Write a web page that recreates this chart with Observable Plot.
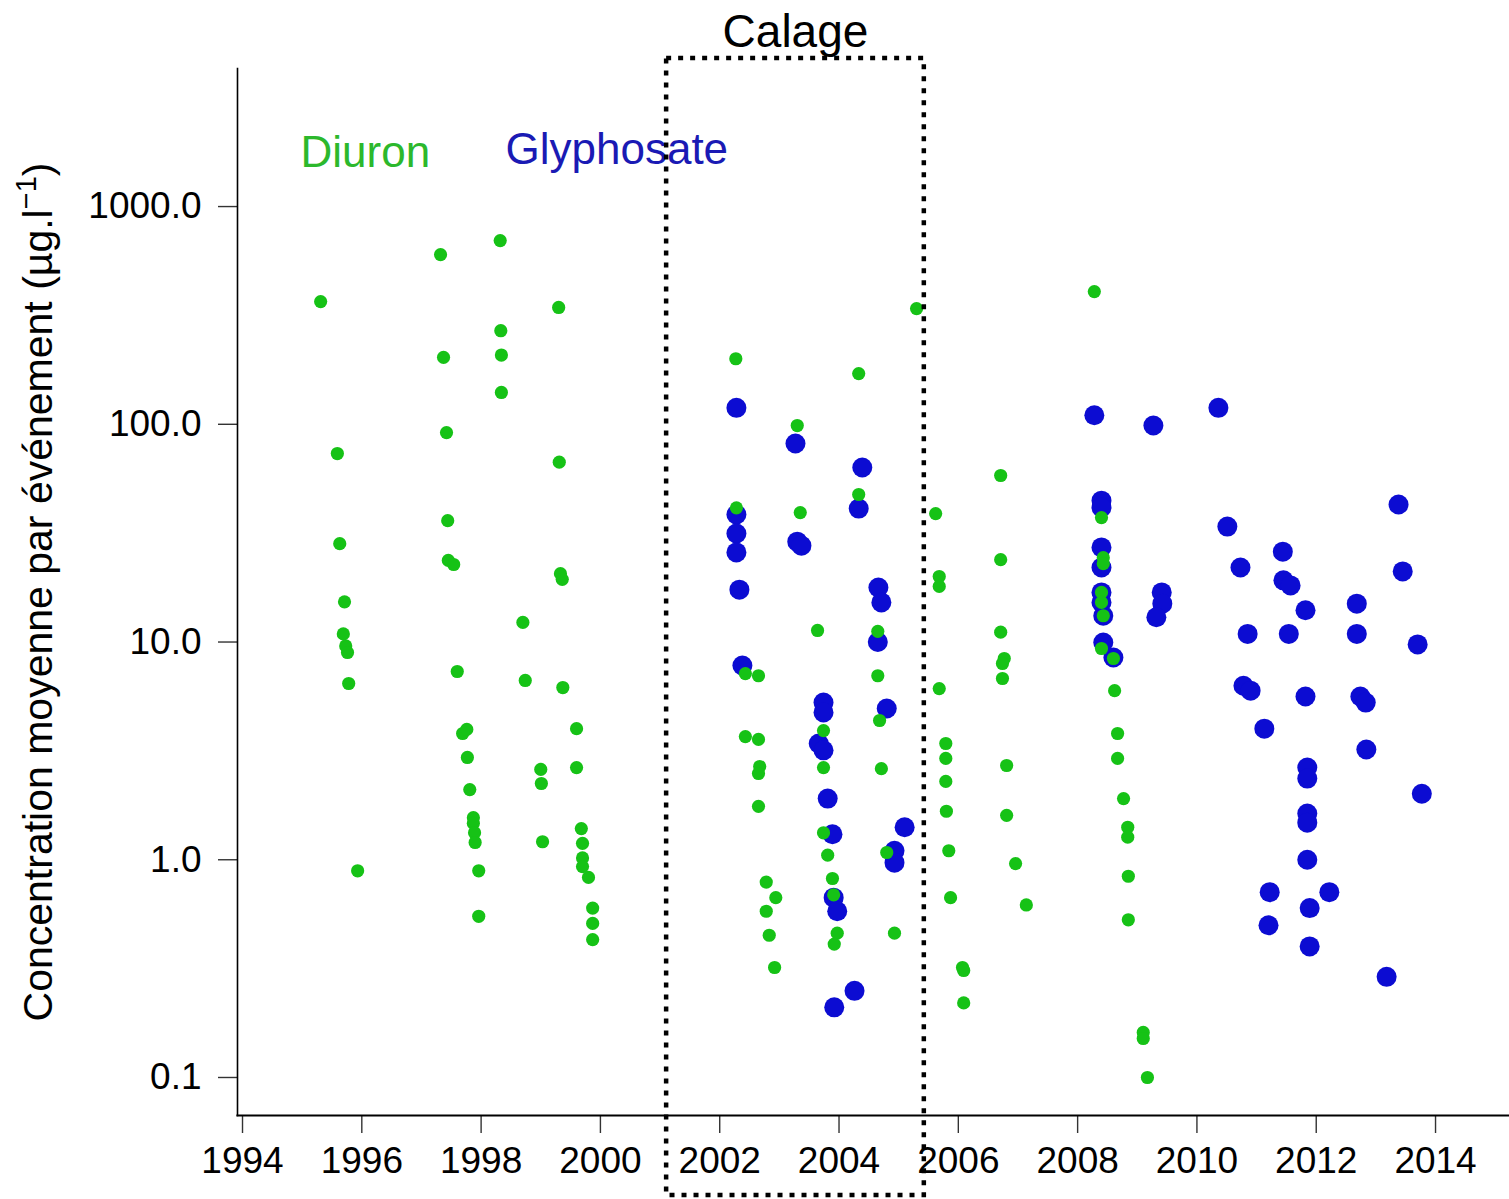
<!DOCTYPE html>
<html><head><meta charset="utf-8">
<script src="https://cdn.jsdelivr.net/npm/d3@7"></script>
<script src="https://cdn.jsdelivr.net/npm/@observablehq/plot@0.6"></script>
<style>body{margin:0;background:#fff} svg{display:block}</style>
</head><body><div id="chart"></div>
<script>
// ---- Data ----
const diuronYear = [
 1995.31,1995.59,1995.63,1995.71,1995.69,1995.73,1995.76,1995.78,1995.93,
 1997.32,1997.37,1997.42,1997.44,1997.45,1997.54,1997.60,1997.69,1997.76,1997.77,1997.81,1997.87,1997.87,1997.89,1997.90,1997.96,1997.96,
 1998.32,1998.33,1998.34,1998.34,1998.70,1998.74,1999.00,1999.01,1999.03,
 1999.30,1999.31,1999.33,1999.36,1999.37,1999.60,1999.60,1999.68,1999.70,1999.70,1999.70,1999.80,1999.87,1999.87,1999.87,
 2002.27,2002.28,2002.43,2002.65,2002.43,2002.65,2002.67,2002.65,2002.65,2002.78,2002.94,2002.78,2002.83,2002.92,
 2003.30,2003.35,2003.64,2003.74,2003.74,2003.74,2003.81,2003.89,2003.91,2003.97,2003.92,
 2004.33,2004.33,2004.65,2004.65,2004.68,2004.71,2004.80,2004.93,
 2005.30,2005.62,2005.68,2005.68,2005.68,2005.79,2005.79,2005.79,2005.80,2005.84,2005.87,2006.07,2006.09,2006.09,
 2006.71,2006.71,2006.71,2006.77,2006.74,2006.74,2006.81,2006.81,2006.96,2007.14,
 2008.28,2008.40,2008.43,2008.43,2008.40,2008.40,2008.43,2008.40,2008.60,2008.62,2008.67,2008.67,2008.77,2008.84,2008.84,2008.85,2008.85,2009.10,2009.10,2009.17
];
const diuronValue = [
 366,73.4,28.3,15.3,10.9,9.6,8.95,6.45,0.89,
 602,203,91.6,36.1,23.7,22.7,7.32,3.80,3.97,2.95,2.10,1.56,1.47,1.33,1.20,0.89,0.55,
 698,269,208,140,12.3,6.66,2.6,2.24,1.21,
 344,67,20.6,19.4,6.18,4.0,2.65,1.39,1.19,1.02,0.93,0.83,0.60,0.51,0.43,
 200,41.3,7.16,7.0,3.68,3.57,2.68,2.49,1.76,0.79,0.67,0.58,0.45,0.32,
 98.7,39.3,11.3,3.92,2.65,1.33,1.05,0.82,0.69,0.46,0.41,
 171,47.6,11.2,7.0,4.36,2.62,1.08,0.46,
 340,38.9,20.0,18.0,6.11,3.42,2.92,2.29,1.67,1.10,0.67,0.32,0.31,0.22,
 58.2,23.9,11.1,8.4,7.97,6.8,2.71,1.60,0.96,0.62,
 407,37.3,24.4,22.9,16.9,15.2,13.2,9.34,8.4,5.98,3.80,2.92,1.91,1.41,1.27,0.84,0.53,0.161,0.151,0.100
];
const glyphoYear = [
 2002.28,2002.28,2002.28,2002.28,2002.33,2002.38,
 2003.27,2003.30,2003.37,2003.74,2003.74,2003.66,2003.74,2003.81,2003.89,2003.91,2003.97,2003.92,
 2004.26,2004.39,2004.33,2004.66,2004.71,2004.65,2004.80,2005.10,2004.93,2004.93,
 2008.28,2008.40,2008.40,2008.40,2008.40,2008.40,2008.40,2008.43,2008.43,2008.60,
 2009.27,2009.41,2009.42,2009.32,
 2010.36,2010.51,2010.73,2010.85,2010.78,2010.90,2011.13,2011.22,2011.20,
 2011.44,2011.45,2011.57,2011.54,2011.82,2011.82,2011.85,2011.85,2011.85,2011.85,2011.85,2011.89,2011.89,
 2012.22,2012.68,2012.68,2012.74,2012.83,2012.84,2013.18,2013.38,2013.45,2013.70,2013.77
];
const glyphoValue = [
 119,38.5,31.5,25.8,17.4,7.8,
 81.6,28.9,27.7,5.27,4.75,3.42,3.18,1.91,1.31,0.67,0.58,0.21,
 0.25,63.3,41.0,17.8,15.2,10.0,4.95,1.41,1.10,0.97,
 110,44.6,41.5,27.2,22.0,16.9,15.2,13.2,9.95,8.49,
 98.7,16.9,15.0,13.0,
 119,33.9,22.0,10.9,6.3,5.98,4.0,0.71,0.50,
 26,19.2,18.2,10.9,14.0,5.62,2.65,2.36,1.63,1.48,1.0,0.60,0.40,
 0.71,15.0,10.9,5.62,5.27,3.21,0.29,42.8,21.1,9.75,2.01
];
const xTicks = [1994,1996,1998,2000,2002,2004,2006,2008,2010,2012,2014];
const yTicks = [0.1,1,10,100,1000];
const seriesNames = ["Diuron","Glyphosate"];
const calage = {label: "Calage", start: 2001.11, end: 2005.43};

// ---- Build ----
const green = "#16c216", blue = "#0c0cd2";
const diuron = diuronYear.map((x,i)=>({x, y: diuronValue[i]}));
const glypho = glyphoYear.map((x,i)=>({x, y: glyphoValue[i]}));
const font = "'Liberation Sans', Arial, Helvetica, sans-serif";

const chart = Plot.plot({
  width: 1509, height: 1199,
  marginLeft: 237, marginRight: 0, marginTop: 68, marginBottom: 84,
  style: {fontFamily: font, background: "white", color: "black"},
  x: {domain: [1993.916, 2015.24]},
  y: {type: "log", domain: [0.0669, 4306]},
  marks: [
    Plot.dot(glypho, {x: "x", y: "y", r: 10, fill: blue}),
    Plot.dot(diuron, {x: "x", y: "y", r: 6.6, fill: green}),
    Plot.axisX({ticks: xTicks, tickSize: 18, tickPadding: 13, fontSize: 37, stroke: "#333", strokeWidth: 1.4, label: null, tickFormat: d => String(d)}),
    Plot.axisY({ticks: yTicks, tickSize: 19, tickPadding: 17, fontSize: 37, stroke: "#333", strokeWidth: 1.4, label: null, tickFormat: d => d.toFixed(1)}),
    Plot.frame({anchor: "left", strokeWidth: 1.6}),
    Plot.frame({anchor: "bottom", strokeWidth: 2.2}),
    Plot.text([seriesNames[0]], {frameAnchor: "top-left", dx: 63, dy: 98, lineAnchor: "bottom", textAnchor: "start", fontSize: 44, fill: "#2cb82c"}),
    Plot.text([seriesNames[1]], {frameAnchor: "top-left", dx: 268, dy: 95, lineAnchor: "bottom", textAnchor: "start", fontSize: 44, fill: "#1a1ab4"}),
    Plot.rect([calage], {x1: "start", x2: "end", insetTop: -10, insetBottom: -80, fill: "none", stroke: "black", strokeWidth: 4.5, strokeDasharray: "5 7"}),
    Plot.text([calage], {x: d => (d.start + d.end) / 2, frameAnchor: "top", text: "label", dy: -22, lineAnchor: "bottom", fontSize: 46, fill: "black"})
  ]
});

const svg = d3.select(chart);
const t = svg.append("text")
  .attr("transform", "translate(52,592) rotate(-90)")
  .attr("text-anchor", "middle")
  .attr("font-family", font)
  .attr("font-size", 41)
  .attr("fill", "black");
t.append("tspan").text("Concentration moyenne par événement (µg.l");
t.append("tspan").attr("font-size", 29).attr("dy", "-16").text("−1");
t.append("tspan").attr("dy", "16").text(")");

document.getElementById("chart").appendChild(chart);
</script>
</body></html>
